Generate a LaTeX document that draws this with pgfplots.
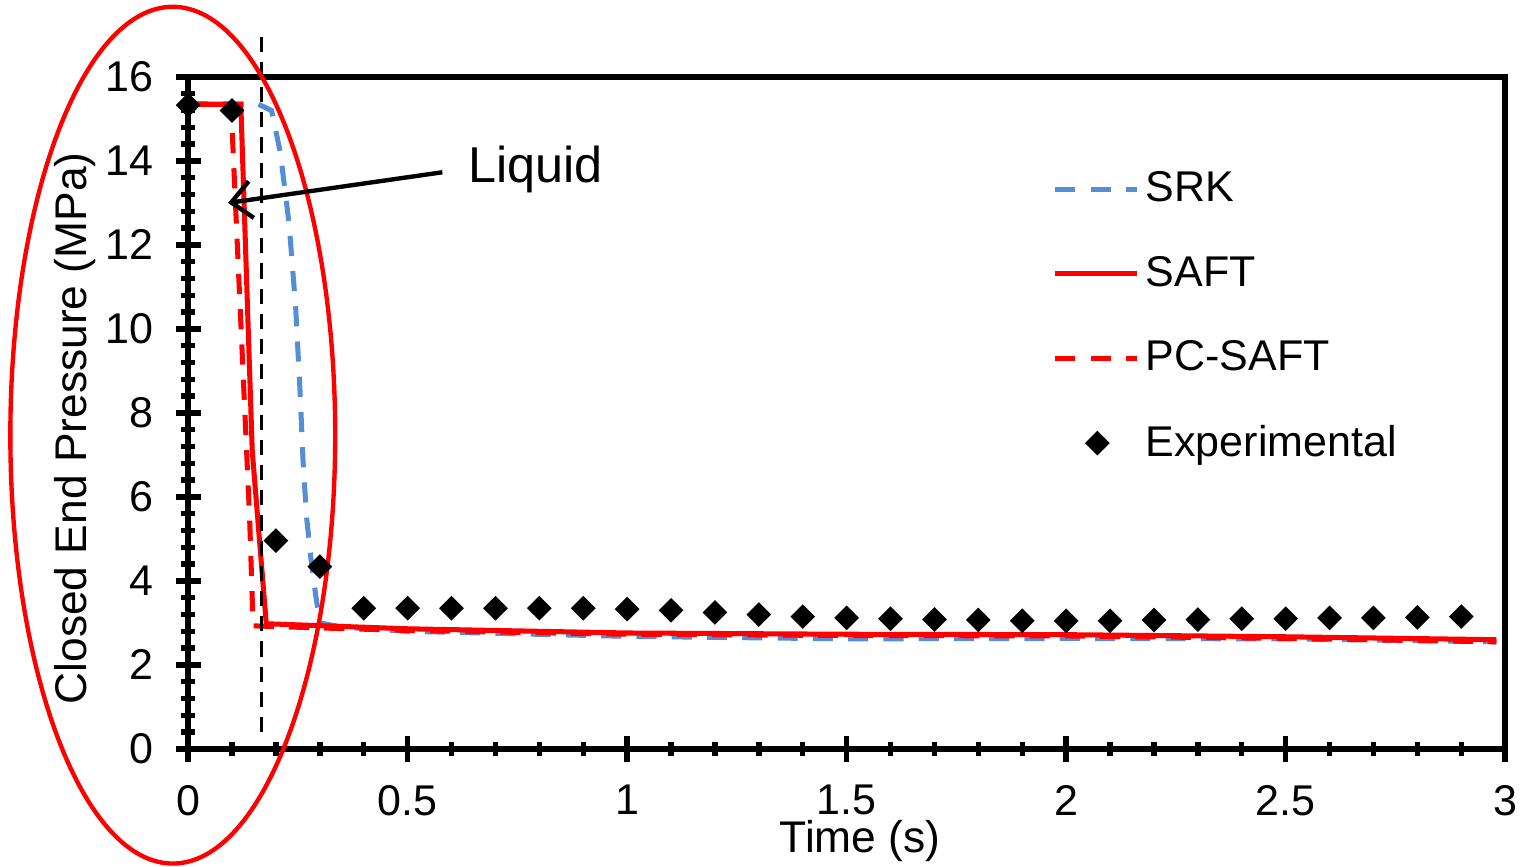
\documentclass[border=0pt]{standalone}
\usepackage{fontspec}
\setmainfont{Liberation Sans}
\usepackage{pgfplots}
\pgfplotsset{compat=1.18}
\usetikzlibrary{arrows.meta,calc}

\newcommand{\lab}{\fontsize{12.8}{14.5}\selectfont}
\newcommand{\alab}{\fontsize{13.2}{15}\selectfont}

\begin{document}
\begin{tikzpicture}
\begin{axis}[
  scale only axis,
  width=392pt, height=200pt,
  xmin=0, xmax=3, ymin=0, ymax=16,
  clip=false,
  axis line style={line width=1.8pt},
  xtick={0,0.5,...,3}, ytick={0,2,...,16},
  minor x tick num=4, minor y tick num=4,
  xtick pos=left, ytick pos=left,
  tick align=center,
  major tick length=7.5pt, minor tick length=4pt,
  every tick/.style={black, line width=1.6pt},
  /pgf/number format/assume math mode=true,
  tick label style={font=\lab},
  xticklabel style={yshift=-3.5pt},
  yticklabel style={xshift=-3pt},
  xlabel={Time (s)}, ylabel={Closed End Pressure (MPa)},
  every axis x label/.style={at={(rel axis cs:0.5,0)}, anchor=center, xshift=4pt, yshift=-27.5pt, font=\alab},
  every axis y label/.style={at={(rel axis cs:0,0.477)}, anchor=center, rotate=90, yshift=33.6pt, font=\alab},
  legend style={at={(rel axis cs:0.656,0.87)}, anchor=north west, draw=none, fill=none,
    font=\lab, row sep=10.7pt, inner sep=0pt},
  legend cell align=left,
  legend image code/.code={\draw[#1] (0cm,0cm) -- (0.85cm,0cm);},
]
% SRK
\addplot[color={rgb,255:red,85;green,142;blue,213}, line width=1.5pt, dash pattern=on 6pt off 4.5pt] coordinates {
  (0,15.35) (0.16,15.35) (0.19,15.2) (0.21,14.2) (0.23,12.5) (0.245,10.5)
  (0.255,8.5) (0.262,6.8) (0.27,5.5) (0.28,4.5) (0.29,3.7) (0.30,3.0)
  (0.35,2.9) (0.5,2.8) (1,2.68) (1.5,2.62) (2,2.63) (2.5,2.62) (2.98,2.55)};
\addlegendentry{SRK}
% SAFT
\addplot[red, line width=1.5pt] coordinates {
  (0,15.35) (0.12,15.35) (0.146,7.1) (0.178,2.98) (0.5,2.86) (1,2.76)
  (1.5,2.73) (2,2.72) (2.5,2.67) (2.98,2.6)};
\addlegendentry{SAFT}
% PC-SAFT
\addplot[red, line width=1.5pt, dash pattern=on 6pt off 4.5pt] coordinates {
  (0,15.35) (0.095,15.35) (0.1,14.8) (0.14,5.5) (0.148,2.93) (0.3,2.88)
  (0.5,2.82) (1,2.73) (1.5,2.7) (2,2.69) (2.5,2.63) (2.98,2.55)};
\addlegendentry{PC-SAFT}
% Experimental
\addplot[only marks, mark=square*, mark size=2.4pt, black, mark options={rotate=45, fill=black},
  legend image code/.code={\draw[mark=square*, mark size=2.4pt, black, mark options={rotate=45, fill=black}] plot coordinates {(0.44cm,0cm)};}]
  coordinates {
  (0,15.33) (0.1,15.2) (0.2,4.96) (0.3,4.34) (0.4,3.35) (0.5,3.35) (0.6,3.35)
  (0.7,3.35) (0.8,3.35) (0.9,3.35) (1.0,3.33) (1.1,3.3) (1.2,3.25) (1.3,3.2)
  (1.4,3.15) (1.5,3.12) (1.6,3.1) (1.7,3.08) (1.8,3.07) (1.9,3.05) (2.0,3.05)
  (2.1,3.05) (2.2,3.07) (2.3,3.08) (2.4,3.1) (2.5,3.1) (2.6,3.12) (2.7,3.12)
  (2.8,3.13) (2.9,3.15)};
\addlegendentry{Experimental}

% annotations
\draw[black, line width=0.9pt, dash pattern=on 4.5pt off 3pt] (axis cs:0.166,0.4) -- (axis cs:0.166,17.2);
\draw[red, line width=1.3pt] (axis cs:-0.035,7.47) ellipse [x radius=0.37, y radius=10.2];
\draw[black, line width=1.3pt, -{Straight Barb[length=6pt,width=11pt]}] (axis cs:0.579,13.73) -- (axis cs:0.091,13.0);
\node[anchor=west, font=\fontsize{15}{17}\selectfont, inner sep=0pt] at (axis cs:0.636,13.8) {Liquid};

\coordinate (sw) at (rel axis cs:0,0);
\coordinate (ne) at (rel axis cs:1,1);
\end{axis}
\pgfresetboundingbox
\path ($(sw)+(-56pt,-35pt)$) rectangle ($(ne)+(6.8pt,22.9pt)$);
\end{tikzpicture}
\end{document}
